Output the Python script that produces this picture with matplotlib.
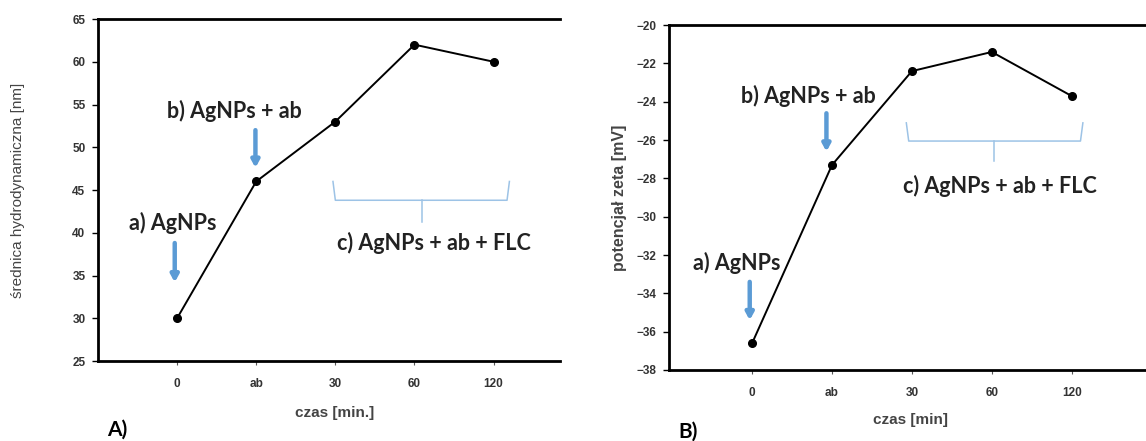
import matplotlib.pyplot as plt

# data
categories = ["0", "ab", "30", "60", "120"]
diameter_nm = [30, 46, 53, 62, 60]
zeta_mV = [-36.6, -27.3, -22.4, -21.4, -23.7]

ARROW_C = "#5b9bd5"
BRACE_C = "#9dc3e6"
TICK_C = "#333333"


def draw_brace(ax, x0, x1, ytop, ymid, xtip, ytip):
    ax.plot([x0, x0 + 0.03, x1 - 0.03, x1], [ytop, ymid, ymid, ytop], color=BRACE_C, lw=1.1)
    ax.plot([xtip, xtip], [ymid, ytip], color=BRACE_C, lw=1.1)


def arrow_down(ax, x, y0, y1):
    ax.annotate("", xy=(x, y1), xytext=(x, y0),
                arrowprops=dict(arrowstyle="-|>,head_width=0.22,head_length=0.4",
                                color=ARROW_C, lw=3.2, shrinkA=0, shrinkB=0))


def style_axes(ax, xlim, ylim, yticks, xlabel, ylabel, ylabel_weight, ylabel_size, xlab_xy, ylab_x):
    x = range(len(categories))
    ax.set_xlim(*xlim)
    ax.set_ylim(*ylim)
    ax.set_xticks(list(x))
    ax.set_xticklabels(categories)
    ax.set_yticks(yticks)
    ax.spines["right"].set_visible(False)
    for s in ["left", "top", "bottom"]:
        ax.spines[s].set_linewidth(2)
    ax.tick_params(axis="x", length=3, width=0.8, pad=9, labelsize=8.5, labelcolor=TICK_C, color="#555555")
    ax.tick_params(axis="y", length=4, width=1, direction="out", labelsize=8.5, labelcolor=TICK_C, pad=5)
    for lab in ax.get_xticklabels() + ax.get_yticklabels():
        lab.set_fontweight("bold")
        lab.set_family("Liberation Sans")
    ax.set_xlabel(xlabel, fontsize=11, fontweight="bold", color="#444444", family="Liberation Sans", va="center")
    ax.set_ylabel(ylabel, fontsize=ylabel_size, fontweight=ylabel_weight, color="#444444",
                  family="Liberation Sans", va="center")
    ax.xaxis.set_label_coords(*xlab_xy)
    ax.yaxis.set_label_coords(ylab_x, 0.5)


fig = plt.figure(figsize=(11.46, 4.41), dpi=100)
ax1 = fig.add_axes([0.0855, 0.1814, 0.4032, 0.7755])
ax2 = fig.add_axes([0.5838, 0.161, 0.4162, 0.782])

txt = dict(fontsize=15.5, fontweight="bold", family="Lato", color="#222222", ha="center", va="center")

# A) diameter
ax1.plot(range(len(categories)), diameter_nm, color="black", lw=1.4, marker="o", ms=5.5)
style_axes(ax1, (-1.0, 4.84), (25, 65), range(25, 66, 5), "czas [min.]",
           "średnica hydrodynamiczna [nm]", "normal", 11, (0.513, -0.152), -0.173)
ax1.text(-0.06, 41.1, "a) AgNPs", **txt)
arrow_down(ax1, -0.03, 38.8, 34.2)
ax1.text(0.72, 54.2, "b) AgNPs + ab", **txt)
arrow_down(ax1, 0.99, 52.0, 47.6)
draw_brace(ax1, 1.97, 4.2, 46.0, 43.8, 3.09, 41.3)
ax1.text(3.25, 38.8, "c) AgNPs + ab + FLC", **txt)
fig.text(107 / 1146, 1 - 430 / 441, "A)", fontsize=15, fontweight="bold", family="Lato", va="center")

# B) zeta potential
ax2.plot(range(len(categories)), zeta_mV, color="black", lw=1.4, marker="o", ms=5.5)
style_axes(ax2, (-1.04, 4.93), (-38, -20), range(-38, -19, 2), "czas [min]",
           "potencjał zeta [mV]", "bold", 11.5, (0.507, -0.145), -0.103)
ax2.text(-0.19, -32.4, "a) AgNPs", **txt)
arrow_down(ax2, -0.03, -33.4, -35.4)
ax2.text(0.7, -23.7, "b) AgNPs + ab", **txt)
arrow_down(ax2, 0.93, -24.6, -26.6)
draw_brace(ax2, 1.93, 4.14, -25.1, -26.05, 3.03, -27.1)
ax2.text(3.1, -28.4, "c) AgNPs + ab + FLC", **txt)
fig.text(678 / 1146, 1 - 432 / 441, "B)", fontsize=15, fontweight="bold", family="Lato", va="center")

fig.savefig("out.png", dpi=100)
